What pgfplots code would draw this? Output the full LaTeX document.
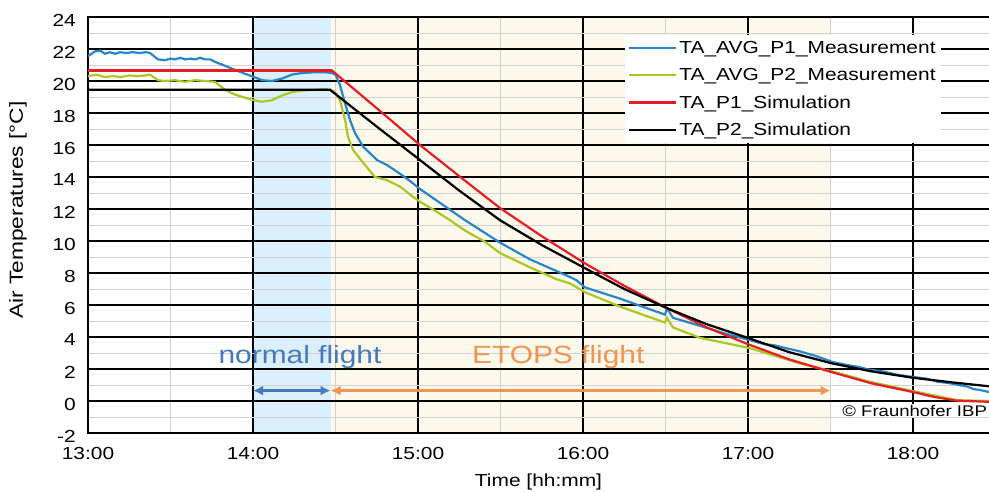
\documentclass[border=0pt]{standalone}
\usepackage{fontspec}
\setmainfont{Liberation Sans}[FakeStretch=1.2]
\usepackage{pgfplots}
\pgfplotsset{compat=1.18}
\usetikzlibrary{arrows.meta}

\definecolor{meas1}{RGB}{38,135,200}
\definecolor{meas2}{RGB}{168,200,36}
\definecolor{sim1}{RGB}{230,30,35}
\definecolor{normbg}{RGB}{220,239,252}
\definecolor{etopsbg}{RGB}{253,248,236}
\definecolor{normtxt}{RGB}{70,122,190}
\definecolor{etopstxt}{RGB}{240,150,80}

\newcommand{\tfont}{\fontsize{17.5}{21}\selectfont}

\begin{document}
\begin{tikzpicture}
\begin{axis}[
    set layers=standard,
    scale only axis,
    width=907.5bp, height=416bp,
    xmin=13, xmax=18.5,
    ymin=-2, ymax=24,
    xtick={13,14,15,16,17,18},
    xticklabels={13:00,14:00,15:00,16:00,17:00,18:00},
    ytick={-2,0,...,24},
    minor x tick num=1,
    minor y tick num=1,
    major tick length=0pt, minor tick length=0pt,
    grid=both,
    major grid style={black, line width=1.2bp},
    minor grid style={black!18, line width=0.9bp},
    axis line style={black, line width=1.6bp},
    /pgf/number format/assume math mode=true,
    tick label style={font=\tfont},
    yticklabel style={anchor=east, inner sep=0pt, xshift=-12bp, yshift=-3bp},
    xticklabel style={anchor=north, inner sep=0pt, yshift=-14bp},
    xlabel={Time [hh:mm]},
    ylabel={Air Temperatures [°C]},
    xlabel style={font=\tfont, at={(axis description cs:0.4964,-0.118)}, anchor=center},
    ylabel style={font=\fontsize{19}{22}\selectfont, at={(axis description cs:-0.0771,0.536)}, anchor=center},
    legend style={at={(rel axis cs:0.5917,0.9567)}, anchor=north west,
        draw=none, fill=white, font=\tfont, inner xsep=3bp, inner ysep=4bp,
        row sep=9.5bp},
    legend cell align=left,
    legend image code/.code={\draw[#1] (0bp,0bp) -- (47bp,0bp);},
]
\begin{pgfonlayer}{axis background}
\fill[normbg] (axis cs:14,-2) rectangle (axis cs:14.47,24);
\fill[etopsbg] (axis cs:14.47,-2) rectangle (axis cs:17.5,24);
\end{pgfonlayer}

% TA_AVG_P1_Measurement
\addplot[meas1, line width=2.2bp] coordinates {
(13.000,21.55)(13.042,21.85)(13.073,21.90)(13.103,21.70)(13.133,21.80)(13.164,21.70)
(13.194,21.80)(13.230,21.75)(13.270,21.80)(13.315,21.75)(13.350,21.80)(13.376,21.75)
(13.400,21.55)(13.424,21.35)(13.467,21.30)(13.500,21.40)(13.527,21.35)(13.560,21.45)
(13.588,21.35)(13.620,21.40)(13.648,21.35)(13.680,21.45)(13.709,21.35)(13.740,21.35)
(13.770,21.20)(13.830,20.95)(13.891,20.70)(13.952,20.45)(14.006,20.25)(14.055,20.05)
(14.115,20.00)(14.176,20.15)(14.236,20.40)(14.297,20.50)(14.376,20.55)(14.436,20.55)
(14.479,20.50)(14.500,20.40)(14.527,19.75)(14.558,18.60)(14.588,17.56)(14.618,16.75)
(14.667,15.90)(14.752,15.06)(14.812,14.75)(14.891,14.20)(14.952,13.75)(15.012,13.25)
(15.103,12.60)(15.194,11.95)(15.285,11.30)(15.406,10.50)(15.497,9.90)(15.679,8.85)
(15.921,7.75)(15.960,7.55)(16.012,7.10)(16.224,6.40)(16.400,5.75)(16.497,5.40)
(16.509,5.80)(16.545,5.20)(16.709,4.70)(16.850,4.25)(17.012,3.80)(17.100,3.55)
(17.160,3.48)(17.230,3.30)(17.315,3.10)(17.400,2.85)(17.509,2.45)(17.600,2.25)
(17.660,2.15)(17.739,1.95)(17.820,1.85)(17.900,1.65)(18.000,1.50)(18.080,1.40)
(18.150,1.20)(18.220,1.12)(18.267,1.02)(18.330,0.90)(18.364,0.75)(18.400,0.70)
(18.461,0.56)
};
\addlegendentry{TA\_AVG\_P1\_Measurement}

% TA_AVG_P2_Measurement
\addplot[meas2, line width=2.2bp] coordinates {
(13.000,20.30)(13.050,20.40)(13.100,20.25)(13.150,20.30)(13.200,20.25)(13.250,20.35)
(13.300,20.30)(13.350,20.35)(13.376,20.40)(13.424,20.05)(13.467,20.00)(13.527,20.05)
(13.588,19.95)(13.648,20.05)(13.709,20.00)(13.770,19.95)(13.830,19.45)(13.891,19.15)
(13.952,18.95)(14.006,18.80)(14.055,18.70)(14.115,18.80)(14.176,19.10)(14.236,19.30)
(14.297,19.40)(14.376,19.45)(14.436,19.50)(14.479,19.40)(14.497,19.30)(14.527,18.80)
(14.558,17.56)(14.576,16.50)(14.606,15.70)(14.667,14.90)(14.739,14.00)(14.812,13.80)
(14.891,13.40)(14.952,12.90)(15.012,12.45)(15.103,11.90)(15.194,11.30)(15.285,10.65)
(15.406,9.95)(15.497,9.25)(15.679,8.35)(15.842,7.60)(15.921,7.35)(16.012,6.80)
(16.224,5.90)(16.497,4.90)(16.509,5.20)(16.545,4.60)(16.709,3.95)(17.012,3.30)
(17.315,2.35)(17.509,1.85)(17.739,1.20)(18.000,0.62)(18.267,0.05)(18.461,0.00)
};
\addlegendentry{TA\_AVG\_P2\_Measurement}

% TA_P1_Simulation
\addplot[sim1, line width=2.2bp] coordinates {
(13.000,20.65)(14.479,20.65)(14.750,18.30)(15.012,16.00)(15.250,14.05)(15.497,12.06)
(15.750,10.30)(16.012,8.60)(16.250,7.20)(16.509,5.80)(16.750,4.60)(17.012,3.50)
(17.250,2.60)(17.509,1.80)(17.750,1.10)(18.000,0.56)(18.130,0.25)(18.267,0.02)
(18.461,-0.05)
};
\addlegendentry{TA\_P1\_Simulation}
\addplot[sim1, line width=3.6bp, forget plot] coordinates {(13.000,20.65)(14.479,20.65)};

% TA_P2_Simulation
\addplot[black, line width=2.2bp] coordinates {
(13.000,19.45)(14.467,19.45)(14.750,17.15)(15.012,15.06)(15.250,13.15)(15.497,11.30)
(15.750,9.75)(16.012,8.30)(16.250,7.00)(16.509,5.80)(16.750,4.80)(17.012,3.90)
(17.250,3.05)(17.509,2.35)(17.750,1.85)(18.000,1.45)(18.250,1.15)(18.461,0.92)
};
\addlegendentry{TA\_P2\_Simulation}

\node[text=normtxt, font=\fontsize{25}{30}\selectfont] at (axis cs:14.285,2.75) {normal flight};
\node[text=etopstxt, font=\fontsize{25}{30}\selectfont] at (axis cs:15.85,2.75) {ETOPS flight};
\draw[normtxt, line width=2.4bp, {Latex[length=10bp,width=10bp]}-{Latex[length=10bp,width=10bp]}]
    (axis cs:14.0,0.65) -- (axis cs:14.47,0.65);
\draw[etopstxt, line width=2.4bp, {Latex[length=10bp,width=10bp]}-{Latex[length=10bp,width=10bp]}]
    (axis cs:14.47,0.65) -- (axis cs:17.5,0.65);
\node[fill=white, inner sep=1bp, anchor=east, font=\fontsize{15.5}{18}\selectfont]
    at (axis cs:18.455,-0.6) {© Fraunhofer IBP};
\end{axis}
\pgfresetboundingbox
\path[use as bounding box] (-88bp,-60bp) rectangle (901bp,433bp);
\end{tikzpicture}
\end{document}
